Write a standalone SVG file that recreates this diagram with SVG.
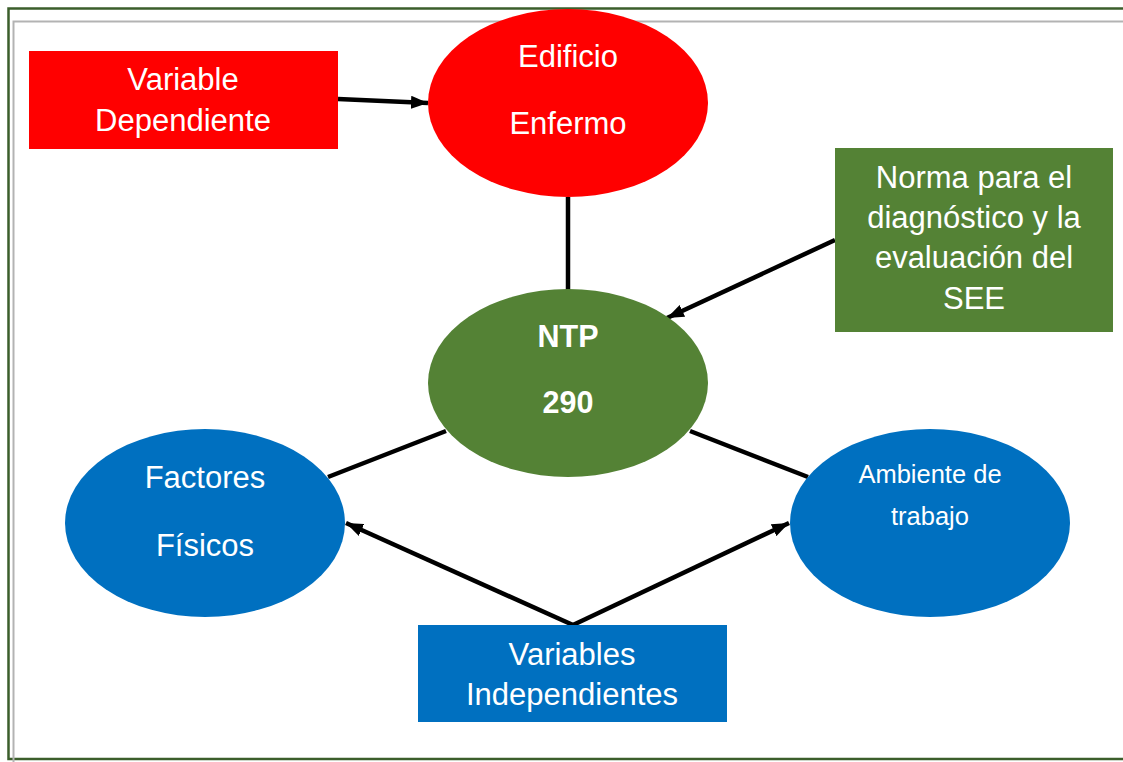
<svg xmlns="http://www.w3.org/2000/svg" width="1123" height="762" viewBox="0 0 1123 762">
<defs>
<style>
.t{font-family:"Liberation Sans",Arial,sans-serif;fill:#fff;text-anchor:middle}
.m{font-size:31px}
.s{font-size:25.5px}
.b{font-size:30.5px;font-weight:bold}
.c{stroke:#000;stroke-width:4.5;fill:none}
</style>
<marker id="ah" viewBox="0 0 17 13" refX="17" refY="6.5" markerWidth="17" markerHeight="13" markerUnits="userSpaceOnUse" orient="auto">
<path d="M0,0 L17,6.5 L0,13 Z" fill="#000"/>
</marker>
</defs>
<rect width="1123" height="762" fill="#fff"/>
<g id="frame">
<path d="M1123,8.5 H8.5 V759 H1123" fill="none" stroke="#3b5e2b" stroke-width="2.5"/>
<path d="M1123,21.5 H13.5 V762" fill="none" stroke="#b3b3b3" stroke-width="2"/>
</g>
<g id="connectors">
<line class="c" x1="338" y1="99" x2="428" y2="103" marker-end="url(#ah)"/>
<line class="c" x1="568" y1="197" x2="568" y2="290"/>
<line class="c" x1="835" y1="240" x2="667" y2="318" marker-end="url(#ah)"/>
<line class="c" x1="446" y1="431" x2="328" y2="477"/>
<line class="c" x1="690" y1="431" x2="808" y2="477"/>
<line class="c" x1="573" y1="625" x2="346" y2="523" marker-end="url(#ah)"/>
<line class="c" x1="573" y1="625" x2="789" y2="523" marker-end="url(#ah)"/>
</g>
<g id="var-dependiente">
<rect x="29" y="51" width="309" height="98" fill="#ff0000"/>
<text class="t m" x="183" y="90">Variable</text>
<text class="t m" x="183" y="131">Dependiente</text>
</g>
<g id="edificio-enfermo">
<ellipse cx="568" cy="103" rx="140" ry="94" fill="#ff0000"/>
<text class="t m" x="568" y="67">Edificio</text>
<text class="t m" x="568" y="134">Enfermo</text>
</g>
<g id="norma">
<rect x="835" y="148" width="278" height="184" fill="#548235"/>
<text class="t m" x="974" y="188">Norma para el</text>
<text class="t m" x="974" y="228">diagnóstico y la</text>
<text class="t m" x="974" y="268">evaluación del</text>
<text class="t m" x="974" y="309">SEE</text>
</g>
<g id="ntp">
<ellipse cx="568" cy="383" rx="140" ry="94" fill="#548235"/>
<text class="t b" x="568" y="347">NTP</text>
<text class="t b" x="568" y="413">290</text>
</g>
<g id="factores">
<ellipse cx="205" cy="523" rx="140" ry="94" fill="#0070c0"/>
<text class="t m" x="205" y="488">Factores</text>
<text class="t m" x="205" y="556">Físicos</text>
</g>
<g id="ambiente">
<ellipse cx="930" cy="523" rx="140" ry="94" fill="#0070c0"/>
<text class="t s" x="930" y="483">Ambiente de</text>
<text class="t s" x="930" y="525">trabajo</text>
</g>
<g id="var-independientes">
<rect x="418" y="625" width="309" height="97" fill="#0070c0"/>
<text class="t m" x="572" y="665">Variables</text>
<text class="t m" x="572" y="705">Independientes</text>
</g>
</svg>
